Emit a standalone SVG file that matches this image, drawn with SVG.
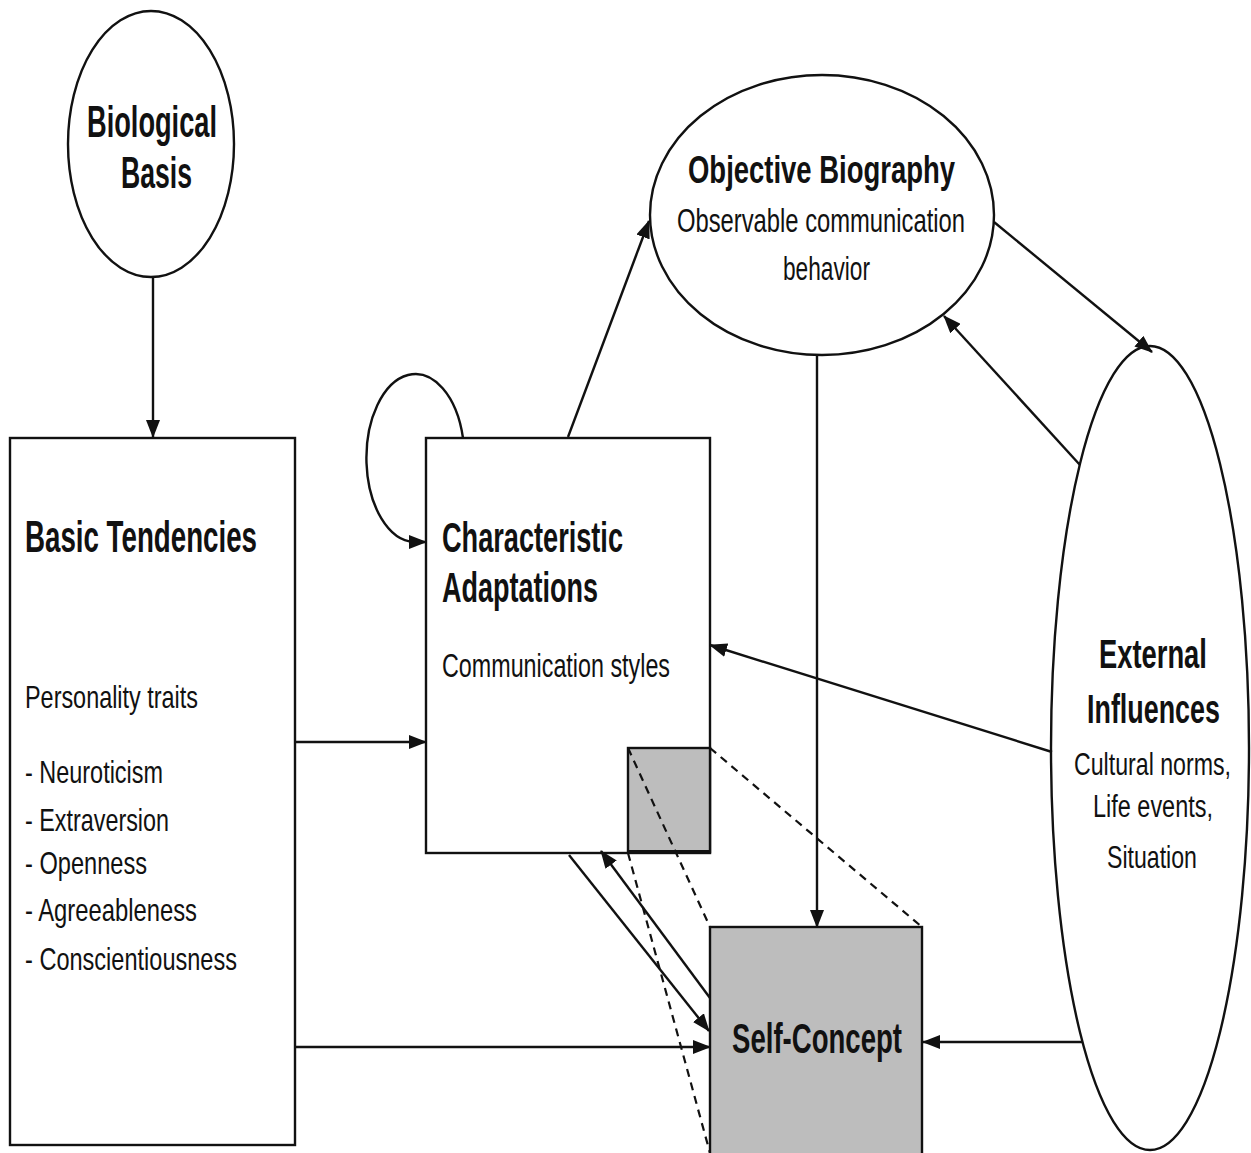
<svg xmlns="http://www.w3.org/2000/svg" width="1251" height="1153" viewBox="0 0 1251 1153">
<style>
.node{fill:#fff;stroke:#111;stroke-width:2.4}
.gray{fill:#bdbdbd;stroke:#111;stroke-width:2.4}
.b{font-family:"Liberation Sans",Arial,sans-serif;font-weight:bold;fill:#111}
.r{font-family:"Liberation Sans",Arial,sans-serif;fill:#111}
.c{fill:none;stroke:#111;stroke-width:2.4}
.d{fill:none;stroke:#111;stroke-width:2.2;stroke-dasharray:8 6}
</style>
<defs>
<marker id="ah" markerUnits="userSpaceOnUse" markerWidth="18" markerHeight="14" refX="17" refY="7" orient="auto">
<path d="M0,0 L18,7 L0,14 z" fill="#111"/>
</marker>
</defs>
<rect width="1251" height="1153" fill="#fff"/>

<g id="biological-basis">
<ellipse class="node" cx="151" cy="144" rx="83" ry="133"/>
<text class="b" x="87" y="137" font-size="44" textLength="130" lengthAdjust="spacingAndGlyphs">Biological</text>
<text class="b" x="121" y="188" font-size="44" textLength="71" lengthAdjust="spacingAndGlyphs">Basis</text>
</g>

<g id="basic-tendencies">
<rect class="node" x="10" y="438" width="285" height="707"/>
<text class="b" x="25" y="552" font-size="44" textLength="232" lengthAdjust="spacingAndGlyphs">Basic Tendencies</text>
<text class="r" x="25" y="708" font-size="32" textLength="173" lengthAdjust="spacingAndGlyphs">Personality traits</text>
<text class="r" x="25" y="783" font-size="32" textLength="138" lengthAdjust="spacingAndGlyphs">- Neuroticism</text>
<text class="r" x="25" y="831" font-size="32" textLength="144" lengthAdjust="spacingAndGlyphs">- Extraversion</text>
<text class="r" x="25" y="874" font-size="32" textLength="122" lengthAdjust="spacingAndGlyphs">- Openness</text>
<text class="r" x="25" y="921" font-size="32" textLength="172" lengthAdjust="spacingAndGlyphs">- Agreeableness</text>
<text class="r" x="25" y="970" font-size="32" textLength="212" lengthAdjust="spacingAndGlyphs">- Conscientiousness</text>
</g>

<g id="characteristic-adaptations">
<rect class="node" x="426" y="438" width="284" height="415"/>
<text class="b" x="442" y="552" font-size="42" textLength="181" lengthAdjust="spacingAndGlyphs">Characteristic</text>
<text class="b" x="442" y="602" font-size="42" textLength="156" lengthAdjust="spacingAndGlyphs">Adaptations</text>
<text class="r" x="442" y="677" font-size="33" textLength="228" lengthAdjust="spacingAndGlyphs">Communication styles</text>
<rect class="gray" x="628" y="748" width="82" height="104"/>
<line x1="628" y1="852" x2="710" y2="852" stroke="#111" stroke-width="4"/>
</g>

<g id="objective-biography">
<ellipse class="node" cx="822" cy="215" rx="172" ry="140"/>
<text class="b" x="688" y="183" font-size="38" textLength="267" lengthAdjust="spacingAndGlyphs">Objective Biography</text>
<text class="r" x="677" y="232" font-size="33" textLength="288" lengthAdjust="spacingAndGlyphs">Observable communication</text>
<text class="r" x="783" y="280" font-size="33" textLength="87" lengthAdjust="spacingAndGlyphs">behavior</text>
</g>

<g id="external-influences">
<ellipse class="node" cx="1150" cy="748" rx="99" ry="402"/>
<text class="b" transform="translate(1099,668) scale(0.684,1)" x="0" y="0" font-size="40">External</text>
<text class="b" transform="translate(1087,723) scale(0.672,1)" x="0" y="0" font-size="40">Influences</text>
<text class="r" transform="translate(1074,775) scale(0.747,1)" x="0" y="0" font-size="31">Cultural norms,</text>
<text class="r" transform="translate(1093,817) scale(0.757,1)" x="0" y="0" font-size="31">Life events,</text>
<text class="r" transform="translate(1107,868) scale(0.746,1)" x="0" y="0" font-size="31">Situation</text>
</g>

<g id="self-concept">
<rect class="gray" x="710" y="927" width="212" height="240"/>
<text class="b" x="732" y="1053" font-size="43" textLength="170" lengthAdjust="spacingAndGlyphs">Self-Concept</text>
</g>

<g id="connectors">
<path class="c" d="M153,278 L153,437" marker-end="url(#ah)"/>
<path class="c" d="M296,742 L426,742" marker-end="url(#ah)"/>
<path class="c" d="M296,1047 L710,1047" marker-end="url(#ah)"/>
<path class="c" d="M568,437 L649,221" marker-end="url(#ah)"/>
<path class="c" d="M994,222 L1152,352" marker-end="url(#ah)"/>
<path class="c" d="M1080,465 L944,316" marker-end="url(#ah)"/>
<path class="c" d="M817,355 L817,927" marker-end="url(#ah)"/>
<path class="c" d="M1052,752 L710,645" marker-end="url(#ah)"/>
<path class="c" d="M1082,1042 L923,1042" marker-end="url(#ah)"/>
<path class="c" d="M569,855 L709,1031" marker-end="url(#ah)"/>
<path class="c" d="M710,998 L601,851" marker-end="url(#ah)"/>
<path class="c" d="M463,438 A49,84 0 1 0 414,542 L426,542" marker-end="url(#ah)"/>
<path class="d" d="M628,748 L710,927"/>
<path class="d" d="M710,748 L922,927"/>
<path class="d" d="M628,853 L710,1153"/>
</g>
</svg>
